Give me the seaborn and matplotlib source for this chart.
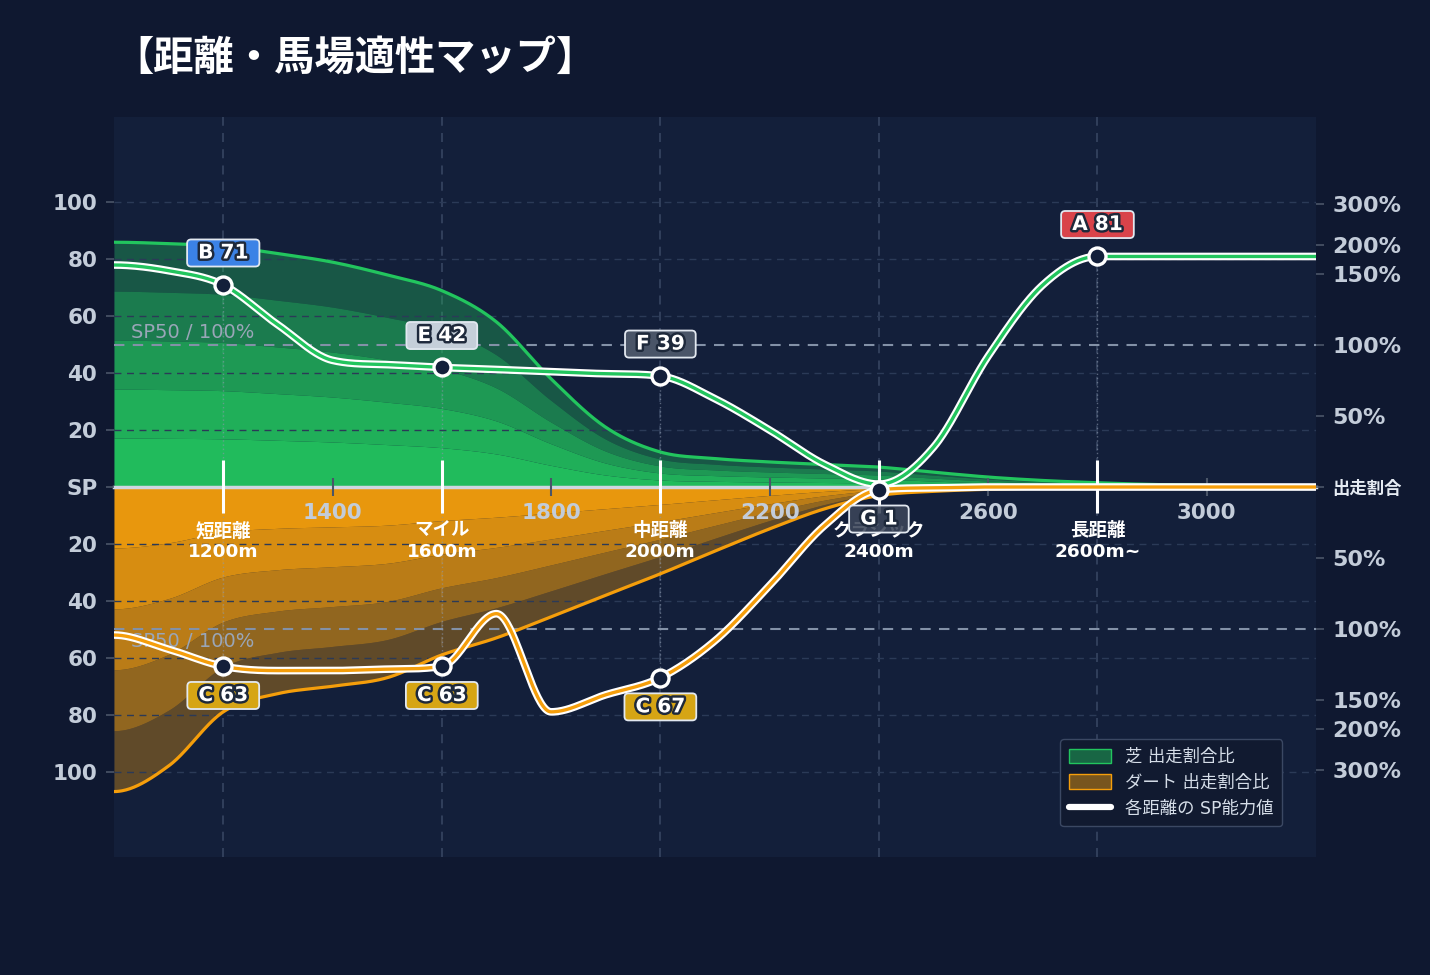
import numpy as np
import pandas as pd
import matplotlib
matplotlib.use('Agg')
import matplotlib.pyplot as plt
import matplotlib.patheffects as pe
from matplotlib.patches import Patch
from matplotlib.lines import Line2D
import seaborn as sns

# distance grid (m) and values
dist = [1000, 1100, 1200, 1300, 1400, 1500, 1600, 1700, 1800, 1900, 2000, 2100,
        2200, 2300, 2400, 2500, 2600, 2700, 2800, 2900, 3000, 3100, 3200]
turf_share = [86, 85.5, 84.6, 82, 79, 74.5, 69, 58, 38, 21, 12.3, 10,
              8.8, 7.9, 7, 5.2, 3.5, 2.3, 1.5, 0.9, 0.6, 0.4, 0.3]
dirt_share = [107, 98, 79, 72.6, 70, 67, 59, 53, 45.6, 38, 30.5, 22.5,
              14.7, 7.7, 3, 1.5, 0.8, 0.4, 0.2, 0.2, 0.1, 0.1, 0.1]
turf_sp = [78, 76, 71, 57, 44.5, 43, 42, 41.3, 40.5, 39.8, 39, 31,
           20, 8, 1, 14, 46, 71, 81, 81, 81, 81, 81]
dirt_sp = [52, 57, 63, 64.5, 64.5, 64, 63, 44.5, 79, 73, 67, 54,
           34.6, 13.6, 1, 0.3, 0, 0, 0, 0, 0, 0, 0]

cat_dist = [1200, 1600, 2000, 2400, 2800]
cat_name = ['短距離', 'マイル', '中距離', 'クラシック', '長距離']
cat_len = ['1200m', '1600m', '2000m', '2400m', '2600m~']
turf_grade = ['B', 'E', 'F', 'G', 'A']
turf_val = [71, 42, 39, 1, 81]
dirt_grade = ['C', 'C', 'C', 'G']
dirt_val = [63, 63, 67, 1]

x_ticks = [1400, 1800, 2200, 2600, 3000]
sp_ticks = [100, 80, 60, 40, 20]
pct_ticks = [300, 200, 150, 100, 50]

GREEN = '#22c55e'
ORANGE = '#f59e0b'
NAVY = '#131f3a'
BG = '#0f1830'
grade_colors = {'A': '#d9434a', 'B': '#3b82e6', 'C': '#d6a514',
                'E': '#c5cfd9', 'F': '#4a5568', 'G': (0.23, 0.27, 0.35, 0.88)}
band_alpha = [0.95, 0.87, 0.74, 0.56, 0.34]


def smooth(x, y, xs):
    """monotone cubic (Fritsch-Carlson) to draw smooth lines through the read points"""
    x = np.asarray(x, float)
    y = np.asarray(y, float)
    h = np.diff(x)
    d = np.diff(y) / h
    m = np.zeros_like(y)
    for i in range(1, len(y) - 1):
        if d[i - 1] * d[i] > 0:
            m[i] = (d[i - 1] + d[i]) / 2
    for i in range(len(d)):
        if d[i] == 0:
            m[i] = m[i + 1] = 0
            continue
        a, b = m[i] / d[i], m[i + 1] / d[i]
        r = a * a + b * b
        if r > 9:
            tau = 3 / np.sqrt(r)
            m[i], m[i + 1] = tau * a * d[i], tau * b * d[i]
    idx = np.clip(np.searchsorted(x, xs) - 1, 0, len(h) - 1)
    t = (xs - x[idx]) / h[idx]
    h00 = 2 * t**3 - 3 * t**2 + 1
    h10 = t**3 - 2 * t**2 + t
    h01 = -2 * t**3 + 3 * t**2
    h11 = t**3 - t**2
    return h00 * y[idx] + h10 * h[idx] * m[idx] + h01 * y[idx + 1] + h11 * h[idx] * m[idx + 1]


def pct_pos(p):
    # right axis is linear up to 150% then compressed
    return p / 2 if p <= 150 else 75 + 24.3 * np.log2(p / 150)


sns.set_theme(style='dark')
plt.rcParams['font.family'] = ['DejaVu Sans', 'Noto Sans CJK JP']
plt.rcParams['axes.unicode_minus'] = False

fig = plt.figure(figsize=(14.3, 9.75), dpi=100, facecolor=BG)
ax = fig.add_axes([0.0797, 0.1210, 0.8406, 0.7590], facecolor=NAVY)
ax.set_xlim(1000, 3200)
ax.set_ylim(-130, 130)
ax.set_axisbelow(False)

xs = np.linspace(1000, 3200, 900)
turf_tot = smooth(dist, turf_share, xs)
dirt_tot = -smooth(dist, dirt_share, xs)
turf_line = smooth(dist, turf_sp, xs)
dirt_line = -smooth(dist, dirt_sp, xs)

# grid
for c in cat_dist:
    ax.axvline(c, color='#34425e', lw=1.3, ls=(0, (5, 4)), zorder=0.5)
for v in sp_ticks:
    for s in (1, -1):
        ax.axhline(s * v, color='#2b3a57', lw=1, ls=(0, (5, 4)), zorder=1.6)

# stacked share bands
for k in range(5):
    ax.fill_between(xs, turf_tot * k / 5, turf_tot * (k + 1) / 5, color=GREEN,
                    alpha=band_alpha[k], lw=0, zorder=1)
    ax.fill_between(xs, dirt_tot * k / 5, dirt_tot * (k + 1) / 5, color=ORANGE,
                    alpha=band_alpha[k], lw=0, zorder=1)
sns.lineplot(x=xs, y=turf_tot, ax=ax, color=GREEN, lw=2.3, zorder=2, sort=False, estimator=None)
sns.lineplot(x=xs, y=dirt_tot, ax=ax, color=ORANGE, lw=2.3, zorder=2, sort=False, estimator=None)

# SP50 reference lines
for s in (1, -1):
    ax.axhline(s * 50, color='#8391a7', lw=1.5, ls=(0, (5, 4)), zorder=1.7)
ax.text(1031, 52.5, 'SP50 / 100%', color='#9aa6b8', fontsize=14, va='baseline', zorder=1.7)
ax.text(1031, -56.1, 'SP50 / 100%', color='#9aa6b8', fontsize=14, va='baseline', zorder=1.7)

# drop lines from markers
for c, v in zip(cat_dist, turf_val):
    ax.plot([c, c], [0, v], color='#8a96aa', lw=1, ls=(0, (1, 2)), alpha=0.6, zorder=1.8)
for c, v in zip(cat_dist, dirt_val):
    ax.plot([c, c], [0, -v], color='#8a96aa', lw=1, ls=(0, (1, 2)), alpha=0.6, zorder=1.8)

# category ticks and names on the zero line
ax.vlines(cat_dist, -9, 9.5, color='white', lw=2.2, zorder=3)
for c, n, l in zip(cat_dist, cat_name, cat_len):
    ax.text(c, -12.4, f'{n}\n{l}', ha='center', va='top', color='white', fontsize=13.3,
            fontweight='bold', linespacing=1.2, zorder=3.5)

# SP lines
for line, col in ((turf_line, GREEN), (dirt_line, ORANGE)):
    sns.lineplot(x=xs, y=line, ax=ax, color='white', lw=5.5, zorder=4, sort=False, estimator=None)
    sns.lineplot(x=xs, y=line, ax=ax, color=col, lw=2.4, zorder=4.1, sort=False, estimator=None)

turf_pts = [(c, v) for c, v in zip(cat_dist, turf_val) if v >= 5]
sns.scatterplot(x=[p[0] for p in turf_pts], y=[p[1] for p in turf_pts], ax=ax, s=150,
                color=NAVY, edgecolor='white', linewidth=2.4, zorder=6)
sns.scatterplot(x=cat_dist[:len(dirt_val)], y=[-v for v in dirt_val], ax=ax, s=150,
                color=NAVY, edgecolor='white', linewidth=2.4, zorder=6)

stroke = [pe.withStroke(linewidth=3.5, foreground='#1e293b')]


def grade_label(x, y, g, v, dy):
    ax.annotate(f' {g} {v} ', xy=(x, y), xytext=(0, dy), textcoords='offset points',
                ha='center', va='center', fontsize=14.5, fontweight='bold', color='white',
                path_effects=stroke, zorder=7,
                bbox=dict(boxstyle='round,pad=0.2,rounding_size=0.2', fc=grade_colors[g],
                          ec='#e2e8f0', lw=1.3))


for c, g, v in zip(cat_dist, turf_grade, turf_val):
    if v < 5:
        continue
    grade_label(c, v, g, v, 23)
for c, g, v in zip(cat_dist, dirt_grade, dirt_val):
    grade_label(c, -v, g, v, -21)

# axes styling
for side in ('left', 'right', 'top'):
    ax.spines[side].set_visible(False)
ax.spines['bottom'].set_position(('data', 0))
ax.spines['bottom'].set_color('#cfd6e0')
ax.spines['bottom'].set_linewidth(2.5)
ax.spines['bottom'].set_zorder(2.5)

ax.set_xticks(x_ticks)
ax.set_xticklabels([str(t) for t in x_ticks], fontweight='bold')
ax.tick_params(axis='x', direction='inout', length=13.5, width=1.5, color='#4a5568',
               labelcolor='#c3ccd9', labelsize=15.5, pad=5, bottom=True)

left_pos = sp_ticks + [0] + [-v for v in sp_ticks[::-1]]
left_lab = [str(v) for v in sp_ticks] + ['SP'] + [str(v) for v in sp_ticks[::-1]]
ax.set_yticks(left_pos)
ax.set_yticklabels(left_lab, fontweight='bold')
ax.tick_params(axis='y', direction='out', length=6, width=1.2, color='#4a5568',
               labelcolor='#c3ccd9', labelsize=15.5, pad=6, left=True)
ax.grid(False)

ax2 = ax.twinx()
ax2.set_ylim(-130, 130)
right_pos = [pct_pos(p) for p in pct_ticks] + [0] + [-pct_pos(p) for p in pct_ticks[::-1]]
right_lab = [f'{p}%' for p in pct_ticks] + ['出走割合'] + [f'{p}%' for p in pct_ticks[::-1]]
ax2.set_yticks(right_pos)
ax2.set_yticklabels(right_lab, fontweight='bold')
ax2.tick_params(axis='y', direction='out', length=6, width=1.2, color='#4a5568',
                labelcolor='#c3ccd9', labelsize=16, pad=6, right=True)
mid = ax2.get_yticklabels()[len(pct_ticks)]
mid.set_fontsize(12.5)
mid.set_color('#e5ebf2')
for sp in ax2.spines.values():
    sp.set_visible(False)
ax2.grid(False)

handles = [Patch(facecolor=(0.13, 0.77, 0.37, 0.45), edgecolor=GREEN, lw=1),
           Patch(facecolor=(0.96, 0.62, 0.04, 0.45), edgecolor=ORANGE, lw=1),
           Line2D([], [], color='white', lw=4.5)]
leg = ax2.legend(handles, ['芝 出走割合比', 'ダート 出走割合比', '各距離の SP能力値'],
                 loc='lower right', bbox_to_anchor=(0.9717, 0.0419), borderaxespad=0,
                 frameon=True, fancybox=True, facecolor='#111a30', edgecolor='#3b4863',
                 framealpha=1, labelcolor='#d5dde8', handlelength=2.4, handleheight=0.9,
                 borderpad=0.5, labelspacing=0.45,
                 prop={'family': ['DejaVu Sans', 'Noto Sans CJK JP'], 'size': 12.5})
leg.set_zorder(8)

fig.text(0.079, 0.940, '【距離・馬場適性マップ】', color='white', fontsize=29,
         fontweight='bold', family=['Noto Sans CJK JP', 'DejaVu Sans'], va='center', ha='left')

fig.savefig('out.png', dpi=100, facecolor=BG)
